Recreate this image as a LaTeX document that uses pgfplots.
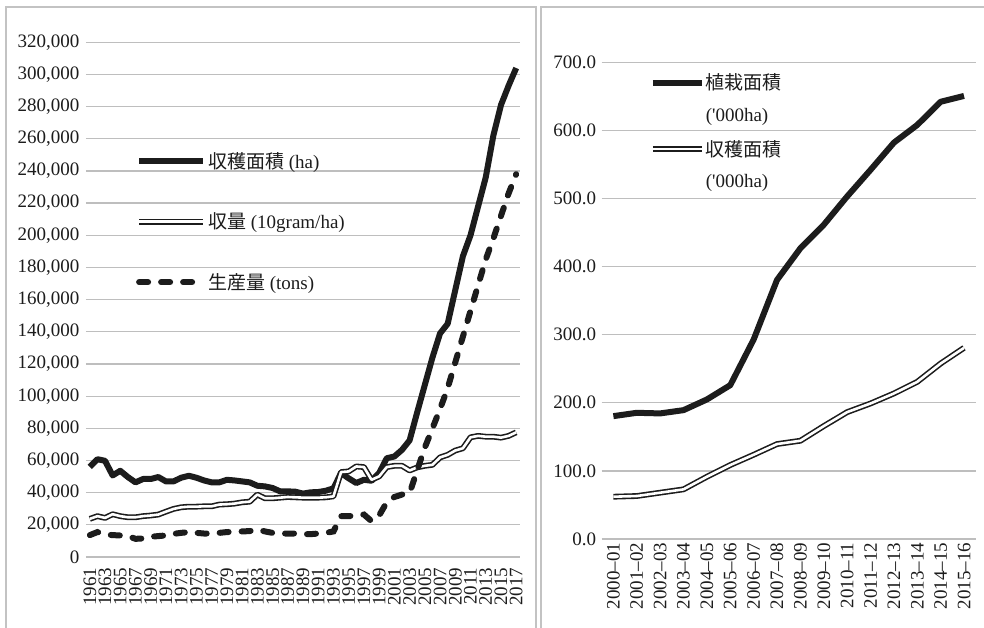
\documentclass[border=0pt]{standalone}
\usepackage{pgfplots}
\pgfplotsset{compat=1.18}
\usepackage{pgfplotstable}
\usepackage{fontspec}
\setmainfont{Liberation Serif}
\newfontfamily\cjk{Noto Sans CJK JP}

\definecolor{gridc}{RGB}{190,190,190}
\definecolor{framec}{RGB}{195,195,195}
\definecolor{ink}{RGB}{28,28,28}

% year, harvested area (ha), yield (10gram/ha), production (tons)
\pgfplotstableread{
year area yield prod
1961 56000 23700 13600
1962 60800 25400 15500
1963 59800 24300 14000
1964 50700 26600 13600
1965 53600 25400 13400
1966 49700 24700 13000
1967 46400 24700 11300
1968 48500 25400 11500
1969 48500 25800 12600
1970 49700 26400 13000
1971 47000 28200 13400
1972 47000 29900 14400
1973 49300 30900 15000
1974 50500 31300 15500
1975 49300 31300 15000
1976 47600 31500 14600
1977 46400 31500 14600
1978 46400 32600 15000
1979 48000 32800 15500
1980 47600 33200 15700
1981 47000 34000 15900
1982 46400 34400 16100
1983 44300 38800 17100
1984 43900 36500 15900
1985 42900 36500 15000
1986 40800 36900 14600
1987 40800 37300 14600
1988 40600 37100 14600
1989 39400 36900 14200
1990 40200 36900 14200
1991 40400 36900 14600
1992 41200 37100 15000
1993 42700 37700 15900
1994 52200 52800 25400
1995 48900 53200 25400
1996 46000 56300 25800
1997 48000 55900 26400
1998 47400 48000 22300
1999 52200 50100 25800
2000 61400 55900 34000
2001 62500 56700 37300
2002 66600 56700 38800
2003 72500 53800 39800
2004 90000 55700 54000
2005 107000 56700 68000
2006 124000 57300 80000
2007 139000 61900 92000
2008 145000 63500 105000
2009 166000 66200 121000
2010 187000 67600 137000
2011 200000 74400 153000
2012 218000 75300 169000
2013 236000 74800 185000
2014 262000 74800 198000
2015 281000 74200 212000
2016 293000 75300 226000
2017 304000 77500 238000
}\longrun

% season index, planted area, harvested area ('000ha)
\pgfplotstableread{
i plant harv
0 180.4 62.1
1 185.3 63.1
2 184.4 68.0
3 189.2 72.9
4 204.9 91.4
5 225.9 108.6
6 292.9 123.7
7 380.4 139.4
8 426.9 144.3
9 461.4 165.8
10 503.0 186.3
11 542.0 199.0
12 582.0 213.7
13 608.0 230.8
14 642.0 257.7
15 650.6 280.7
}\seasons

\pgfplotsset{
  panel/.style={
    scale only axis,
    clip=false,
    axis line style={draw=none},
    ymajorgrids,
    grid style={gridc, line width=1.3pt},
    major tick length=0pt,
    tick label style={font=\fontsize{19}{21}\selectfont, text=ink},
    /pgf/number format/assume math mode=true,
    legend cell align=left,
    legend style={draw=none, fill=none, inner sep=0pt,
      font=\fontsize{19}{21}\selectfont, text=ink},
  },
  area/.style={ink, line width=6pt, line join=round},
  yieldline/.style={ink, line width=1.6pt, double=white, double distance=2.6pt, line join=round},
  prod/.style={ink, line width=6pt, line cap=round, dash pattern=on 9pt off 13pt},
}

\begin{document}
\begin{tikzpicture}
\useasboundingbox (0,0) rectangle (984pt,628pt);
\draw[framec, line width=1.2pt] (6pt,-5pt) -- (6pt,621pt) -- (536pt,621pt) -- (536pt,-5pt);
\draw[framec, line width=1.2pt] (541pt,-5pt) -- (541pt,621pt) -- (995pt,621pt);

\begin{axis}[panel,
  at={(86pt,71pt)}, anchor=south west,
  width=434pt, height=514.7pt,
  xmin=1960.5, xmax=2017.5,
  ymin=0, ymax=320000,
  xtick={1961,1963,...,2017},
  ytick={0,20000,...,320000},
  scaled y ticks=false,
  xticklabel shift=7pt,
  xticklabel style={rotate=90, anchor=east, /pgf/number format/1000 sep={}},
  yticklabel style={xshift=-3pt, /pgf/number format/.cd, fixed, precision=0, 1000 sep={,}},
  legend image code/.code={\draw[#1] (0pt,0pt) -- (64pt,0pt);},
  legend style={at={(0.115,0.79)}, anchor=north west, row sep=39pt},
]
\addplot[area] table[x=year, y=area] {\longrun};
\addlegendentry{{\cjk 収穫面積} (ha)}
\addplot[yieldline] table[x=year, y=yield] {\longrun};
\addlegendentry{{\cjk 収量} (10gram/ha)}
\addplot[prod] table[x=year, y=prod] {\longrun};
\addlegendentry{{\cjk 生産量} (tons)}
\end{axis}

\begin{axis}[panel,
  at={(601.7pt,89pt)}, anchor=south west,
  width=374pt, height=476.7pt,
  xmin=-0.5, xmax=15.5,
  ymin=0, ymax=700,
  xtick={0,...,15},
  xticklabels={2000--01,2001--02,2002--03,2003--04,2004--05,2005--06,2006--07,2007--08,2008--09,2009--10,2010--11,2011--12,2012--13,2013--14,2014--15,2015--16},
  ytick={0,100,...,700},
  xticklabel style={rotate=90, anchor=east},
  yticklabel style={xshift=-2pt, /pgf/number format/.cd, fixed, fixed zerofill, precision=1},
  legend image code/.code={\draw[#1] (0pt,0pt) -- (49pt,0pt);},
  legend style={at={(0.128,0.98)}, anchor=north west, row sep=13pt,
    nodes={inner xsep=1pt}},
]
\addplot[area] table[x=i, y=plant] {\seasons};
\addlegendentry{{\cjk 植栽面積}}
\addlegendimage{empty legend}
\addlegendentry{(\textquotesingle 000ha)}
\addplot[yieldline] table[x=i, y=harv] {\seasons};
\addlegendentry{{\cjk 収穫面積}}
\addlegendimage{empty legend}
\addlegendentry{(\textquotesingle 000ha)}
\end{axis}
\end{tikzpicture}
\end{document}
